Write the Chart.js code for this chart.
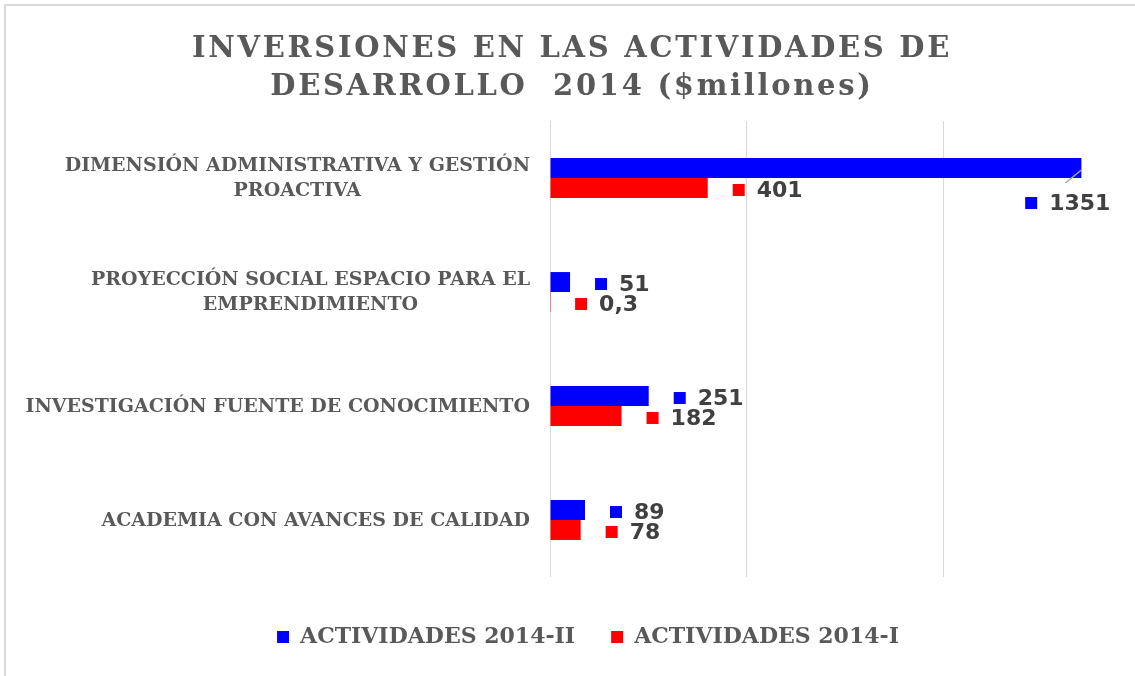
<!DOCTYPE html>
<html>
<head>
<meta charset="utf-8">
<script src="https://cdn.jsdelivr.net/npm/chart.js@4"></script>
<style>
  html, body { margin: 0; padding: 0; background: #fff; overflow: hidden; width: 1135px; height: 676px; }
  #wrap { position: absolute; left: 0; top: 0; width: 1140px; height: 676px; }
</style>
</head>
<body>
<div id="wrap"><canvas id="chart"></canvas></div>
<script>
// chart values
const TITLE_LINES = ["INVERSIONES EN LAS ACTIVIDADES DE", "DESARROLLO  2014 ($millones)"];
const CATEGORIES = [
  ["DIMENSIÓN ADMINISTRATIVA Y GESTIÓN", "PROACTIVA"],
  ["PROYECCIÓN SOCIAL ESPACIO PARA EL", "EMPRENDIMIENTO"],
  ["INVESTIGACIÓN FUENTE DE CONOCIMIENTO"],
  ["ACADEMIA CON AVANCES DE CALIDAD"],
];
const SERIES_NAMES = ["ACTIVIDADES 2014-II", "ACTIVIDADES 2014-I"];
const VALUES_2014_II = [1351, 51, 251, 89];
const VALUES_2014_I = [401, 0.3, 182, 78];
const VALUE_TEXT_2014_II = ["1351", "51", "251", "89"];
const VALUE_TEXT_2014_I = ["401", "0,3", "182", "78"];
const COLORS = ["#0000ff", "#ff0000"];

const GRAY = "#595959";
const SERIF = "'DejaVu Serif', 'Liberation Serif', serif";
const SANS = "'DejaVu Sans', 'Liberation Sans', sans-serif";

// light frame on the left and top edges, like the original chart border
const framePlugin = {
  id: "frame",
  beforeDraw(chart) {
    const ctx = chart.ctx;
    ctx.save();
    ctx.fillStyle = "#d9d9d9";
    ctx.fillRect(4, 4, chart.width, 2);
    ctx.fillRect(4, 4, 2, chart.height);
    ctx.restore();
  },
};

// Title drawn by hand so the letters can be spaced out like the original
const titlePlugin = {
  id: "spacedTitle",
  afterDraw(chart) {
    const ctx = chart.ctx;
    ctx.save();
    ctx.fillStyle = GRAY;
    ctx.font = "bold 29px " + SERIF;
    ctx.letterSpacing = "2.7px";
    ctx.textAlign = "center";
    ctx.textBaseline = "middle";
    TITLE_LINES.forEach((line, i) => {
      ctx.fillText(line, 572, 49 + i * 38);
    });
    ctx.restore();
  },
};

// Category labels: lines centred on each other, block right-aligned to the axis
const categoryLabelPlugin = {
  id: "categoryLabels",
  afterDraw(chart) {
    const ctx = chart.ctx;
    const yScale = chart.scales.y;
    const right = chart.chartArea.left - 20;
    ctx.save();
    ctx.fillStyle = GRAY;
    ctx.font = "bold 19px " + SERIF;
    ctx.textAlign = "center";
    ctx.textBaseline = "middle";
    CATEGORIES.forEach((lines, i) => {
      const y = yScale.getPixelForTick(i) + 1;
      const w = Math.max(...lines.map((l) => ctx.measureText(l).width));
      const cx = right - w / 2;
      const lineH = 25;
      const y0 = y - ((lines.length - 1) * lineH) / 2;
      lines.forEach((l, j) => ctx.fillText(l, cx, y0 + j * lineH));
    });
    ctx.restore();
  },
};

// Data labels with a legend key square in front, Excel style
const valueLabelPlugin = {
  id: "valueLabels",
  afterDatasetsDraw(chart) {
    const ctx = chart.ctx;
    const texts = [VALUE_TEXT_2014_II, VALUE_TEXT_2014_I];
    ctx.save();
    ctx.font = "bold 22px " + SANS;
    ctx.textBaseline = "middle";
    ctx.textAlign = "left";
    chart.data.datasets.forEach((ds, di) => {
      const meta = chart.getDatasetMeta(di);
      meta.data.forEach((bar, i) => {
        const txt = texts[di][i];
        const tw = ctx.measureText(txt).width;
        let sx = bar.x + 25;
        let y = bar.y + 2;
        if (sx + 24 + tw > chart.width - 20) {
          // no room on the right: drop the label below with a leader line
          sx = bar.x + 29 - tw - 24;
          y = bar.y + 35;
          ctx.strokeStyle = "#a6a6a6";
          ctx.lineWidth = 1.5;
          ctx.beginPath();
          ctx.moveTo(bar.x, bar.y + 2);
          ctx.lineTo(bar.x - 16, bar.y + 15);
          ctx.stroke();
        }
        ctx.fillStyle = ds.backgroundColor;
        ctx.fillRect(sx, y - 6, 12, 12);
        ctx.fillStyle = "#404040";
        ctx.fillText(txt, sx + 24, y + 1);
      });
    });
    ctx.restore();
  },
};

new Chart(document.getElementById("chart"), {
  type: "bar",
  data: {
    labels: CATEGORIES,
    datasets: [
      {
        label: SERIES_NAMES[0],
        data: VALUES_2014_II,
        backgroundColor: COLORS[0],
        categoryPercentage: 0.35,
        barPercentage: 1.0,
      },
      {
        label: SERIES_NAMES[1],
        data: VALUES_2014_I,
        backgroundColor: COLORS[1],
        categoryPercentage: 0.35,
        barPercentage: 1.0,
      },
    ],
  },
  options: {
    indexAxis: "y",
    responsive: true,
    maintainAspectRatio: false,
    animation: false,
    layout: { padding: { top: 121, right: 0, bottom: 18, left: 36 } },
    scales: {
      x: {
        min: 0,
        max: 1500,
        ticks: { display: false, stepSize: 500 },
        grid: { color: "#d9d9d9", lineWidth: 1, drawTicks: false },
        border: { display: false },
        afterFit(scale) {
          scale.height = 13;
        },
      },
      y: {
        ticks: { display: false },
        grid: { display: false, drawTicks: false },
        border: { display: false },
        afterFit(scale) {
          scale.width = 514;
        },
      },
    },
    plugins: {
      title: { display: false },
      tooltip: { enabled: false },
      legend: {
        position: "bottom",
        labels: {
          color: GRAY,
          font: { family: SERIF, size: 22, weight: "bold" },
          boxWidth: 12,
          boxHeight: 12,
          padding: 36,
        },
      },
    },
  },
  plugins: [framePlugin, titlePlugin, categoryLabelPlugin, valueLabelPlugin],
});
</script>
</body>
</html>
